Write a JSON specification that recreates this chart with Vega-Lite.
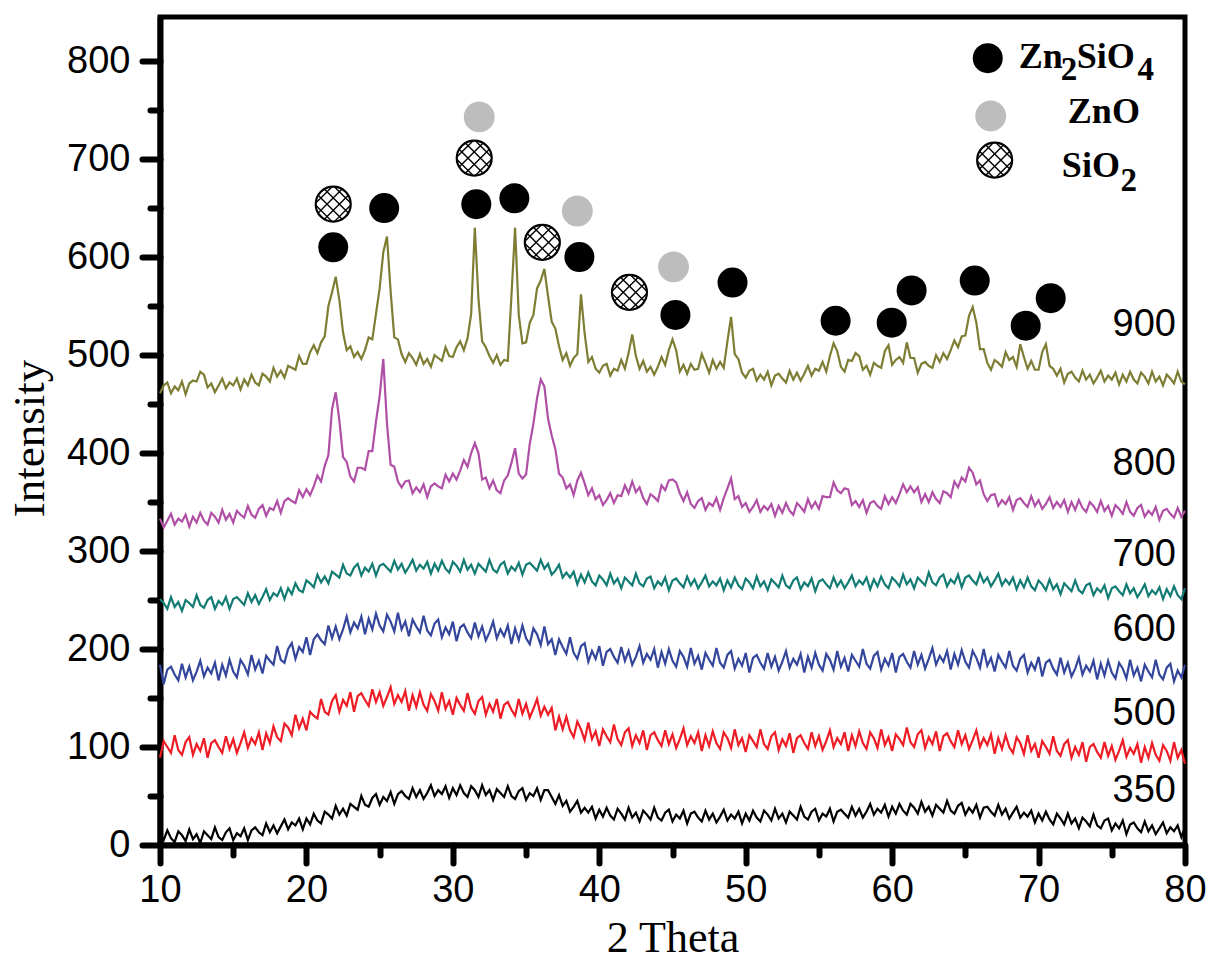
{
"$schema":"https://vega.github.io/schema/vega-lite/v6.json",
"width":1025,"height":828,"autosize":"none",
"padding":{"left":160,"top":17,"right":25,"bottom":120},
"background":"white",
"config":{"view":{"stroke":"#000000","strokeWidth":5},"axis":{"grid":false}},
"datasets":{
"xrd":[
{"x":10,"a":12,"b":89,"c":184,"d":251,"e":333,"f":461},
{"x":10.25,"a":5,"b":106,"c":164,"d":247,"e":324,"f":469},
{"x":10.5,"a":15,"b":100,"c":179,"d":241,"e":331,"f":472},
{"x":10.75,"a":7,"b":94,"c":182,"d":253,"e":338,"f":461},
{"x":11,"a":3,"b":112,"c":174,"d":243,"e":327,"f":468},
{"x":11.25,"a":14,"b":97,"c":168,"d":248,"e":333,"f":464},
{"x":11.5,"a":10,"b":92,"c":185,"d":239,"e":330,"f":473},
{"x":11.75,"a":4,"b":105,"c":171,"d":250,"e":337,"f":460},
{"x":12,"a":16,"b":110,"c":182,"d":247,"e":325,"f":471},
{"x":12.25,"a":6,"b":92,"c":168,"d":243,"e":335,"f":474},
{"x":12.5,"a":11,"b":103,"c":177,"d":255,"e":329,"f":473},
{"x":12.75,"a":2,"b":96,"c":188,"d":245,"e":339,"f":483},
{"x":13,"a":14,"b":109,"c":172,"d":242,"e":331,"f":480},
{"x":13.25,"a":10,"b":89,"c":181,"d":250,"e":327,"f":467},
{"x":13.5,"a":6,"b":104,"c":175,"d":253,"e":339,"f":471},
{"x":13.75,"a":18,"b":107,"c":186,"d":241,"e":335,"f":462},
{"x":14,"a":8,"b":100,"c":168,"d":249,"e":329,"f":469},
{"x":14.25,"a":5,"b":94,"c":184,"d":245,"e":342,"f":476},
{"x":14.5,"a":13,"b":111,"c":173,"d":253,"e":332,"f":466},
{"x":14.75,"a":17,"b":98,"c":189,"d":241,"e":338,"f":472},
{"x":15,"a":5,"b":108,"c":177,"d":251,"e":329,"f":469},
{"x":15.25,"a":12,"b":94,"c":171,"d":253,"e":341,"f":476},
{"x":15.5,"a":9,"b":104,"c":189,"d":249,"e":337,"f":465},
{"x":15.75,"a":17,"b":115,"c":183,"d":245,"e":334,"f":475},
{"x":16,"a":5,"b":99,"c":174,"d":257,"e":346,"f":469},
{"x":16.25,"a":15,"b":109,"c":194,"d":248,"e":337,"f":480},
{"x":16.5,"a":18,"b":103,"c":179,"d":255,"e":334,"f":472},
{"x":16.75,"a":13,"b":115,"c":188,"d":246,"e":343,"f":469},
{"x":17,"a":10,"b":97,"c":175,"d":253,"e":347,"f":481},
{"x":17.25,"a":22,"b":114,"c":193,"d":261,"e":336,"f":478},
{"x":17.5,"a":13,"b":104,"c":188,"d":250,"e":344,"f":473},
{"x":17.75,"a":20,"b":121,"c":184,"d":257,"e":342,"f":487},
{"x":18,"a":12,"b":110,"c":203,"d":254,"e":351,"f":478},
{"x":18.25,"a":19,"b":106,"c":189,"d":262,"e":339,"f":484},
{"x":18.5,"a":26,"b":124,"c":186,"d":251,"e":351,"f":477},
{"x":18.75,"a":16,"b":120,"c":200,"d":262,"e":354,"f":489},
{"x":19,"a":23,"b":112,"c":206,"d":256,"e":351,"f":487},
{"x":19.25,"a":20,"b":133,"c":190,"d":267,"e":349,"f":485},
{"x":19.5,"a":27,"b":119,"c":202,"d":260,"e":362,"f":499},
{"x":19.75,"a":16,"b":129,"c":197,"d":258,"e":355,"f":491},
{"x":20,"a":27,"b":117,"c":212,"d":270,"e":363,"f":491},
{"x":20.25,"a":21,"b":136,"c":194,"d":267,"e":357,"f":503},
{"x":20.5,"a":32,"b":132,"c":210,"d":263,"e":366,"f":510},
{"x":20.75,"a":25,"b":129,"c":215,"d":276,"e":377,"f":502},
{"x":21,"a":22,"b":149,"c":209,"d":268,"e":371,"f":513},
{"x":21.25,"a":34,"b":136,"c":205,"d":274,"e":387,"f":519},
{"x":21.5,"a":31,"b":133,"c":224,"d":267,"e":398,"f":550},
{"x":21.75,"a":27,"b":147,"c":211,"d":279,"e":445,"f":564},
{"x":22,"a":40,"b":153,"c":223,"d":276,"e":462,"f":580},
{"x":22.25,"a":31,"b":136,"c":210,"d":273,"e":433,"f":556},
{"x":22.5,"a":37,"b":148,"c":220,"d":286,"e":396,"f":523},
{"x":22.75,"a":30,"b":142,"c":233,"d":277,"e":391,"f":505},
{"x":23,"a":42,"b":156,"c":217,"d":275,"e":376,"f":509},
{"x":23.25,"a":39,"b":136,"c":227,"d":283,"e":371,"f":498},
{"x":23.5,"a":36,"b":152,"c":221,"d":287,"e":385,"f":503},
{"x":23.75,"a":50,"b":155,"c":233,"d":275,"e":385,"f":496},
{"x":24,"a":41,"b":148,"c":215,"d":283,"e":383,"f":505},
{"x":24.25,"a":39,"b":142,"c":231,"d":279,"e":402,"f":518},
{"x":24.5,"a":48,"b":159,"c":220,"d":287,"e":402,"f":516},
{"x":24.75,"a":52,"b":146,"c":236,"d":275,"e":432,"f":542},
{"x":25,"a":41,"b":156,"c":224,"d":285,"e":458,"f":568},
{"x":25.25,"a":49,"b":142,"c":218,"d":287,"e":496,"f":605},
{"x":25.5,"a":45,"b":151,"c":235,"d":283,"e":430,"f":621},
{"x":25.75,"a":54,"b":161,"c":228,"d":279,"e":388,"f":565},
{"x":26,"a":42,"b":144,"c":218,"d":290,"e":386,"f":518},
{"x":26.25,"a":52,"b":153,"c":237,"d":281,"e":371,"f":516},
{"x":26.5,"a":55,"b":146,"c":220,"d":287,"e":365,"f":501},
{"x":26.75,"a":50,"b":157,"c":228,"d":278,"e":371,"f":493},
{"x":27,"a":47,"b":137,"c":213,"d":284,"e":372,"f":502},
{"x":27.25,"a":58,"b":153,"c":230,"d":291,"e":359,"f":497},
{"x":27.5,"a":49,"b":141,"c":223,"d":280,"e":365,"f":490},
{"x":27.75,"a":56,"b":156,"c":217,"d":286,"e":360,"f":501},
{"x":28,"a":47,"b":143,"c":234,"d":282,"e":368,"f":491},
{"x":28.25,"a":53,"b":137,"c":219,"d":289,"e":355,"f":496},
{"x":28.5,"a":61,"b":154,"c":214,"d":277,"e":366,"f":488},
{"x":28.75,"a":50,"b":147,"c":226,"d":287,"e":369,"f":500},
{"x":29,"a":56,"b":137,"c":230,"d":280,"e":366,"f":497},
{"x":29.25,"a":52,"b":156,"c":212,"d":290,"e":364,"f":494},
{"x":29.5,"a":60,"b":139,"c":222,"d":282,"e":378,"f":508},
{"x":29.75,"a":48,"b":147,"c":215,"d":278,"e":371,"f":499},
{"x":30,"a":58,"b":133,"c":228,"d":289,"e":379,"f":498},
{"x":30.25,"a":51,"b":150,"c":208,"d":285,"e":373,"f":508},
{"x":30.5,"a":61,"b":143,"c":222,"d":279,"e":382,"f":514},
{"x":30.75,"a":53,"b":137,"c":225,"d":291,"e":393,"f":505},
{"x":31,"a":49,"b":155,"c":217,"d":281,"e":386,"f":517},
{"x":31.25,"a":60,"b":140,"c":211,"d":286,"e":400,"f":542},
{"x":31.5,"a":56,"b":134,"c":227,"d":277,"e":410,"f":630},
{"x":31.75,"a":49,"b":147,"c":213,"d":287,"e":400,"f":557},
{"x":32,"a":61,"b":151,"c":223,"d":283,"e":373,"f":514},
{"x":32.25,"a":51,"b":133,"c":209,"d":279,"e":375,"f":508},
{"x":32.5,"a":56,"b":144,"c":217,"d":291,"e":364,"f":499},
{"x":32.75,"a":46,"b":136,"c":228,"d":281,"e":372,"f":492},
{"x":33,"a":57,"b":149,"c":211,"d":278,"e":362,"f":500},
{"x":33.25,"a":53,"b":129,"c":220,"d":286,"e":359,"f":490},
{"x":33.5,"a":49,"b":143,"c":213,"d":289,"e":372,"f":495},
{"x":33.75,"a":60,"b":146,"c":224,"d":277,"e":377,"f":494},
{"x":34,"a":50,"b":138,"c":205,"d":284,"e":390,"f":560},
{"x":34.25,"a":47,"b":132,"c":221,"d":280,"e":405,"f":630},
{"x":34.5,"a":55,"b":149,"c":209,"d":288,"e":379,"f":541},
{"x":34.75,"a":58,"b":134,"c":224,"d":276,"e":374,"f":512},
{"x":35,"a":46,"b":144,"c":211,"d":286,"e":378,"f":513},
{"x":35.25,"a":53,"b":130,"c":205,"d":288,"e":409,"f":533},
{"x":35.5,"a":50,"b":139,"c":221,"d":284,"e":430,"f":541},
{"x":35.75,"a":58,"b":149,"c":215,"d":280,"e":456,"f":568},
{"x":36,"a":46,"b":132,"c":204,"d":291,"e":475,"f":576},
{"x":36.25,"a":56,"b":141,"c":223,"d":282,"e":468,"f":588},
{"x":36.5,"a":56,"b":133,"c":205,"d":287,"e":435,"f":560},
{"x":36.75,"a":49,"b":140,"c":210,"d":276,"e":418,"f":534},
{"x":37,"a":42,"b":117,"c":194,"d":280,"e":404,"f":527},
{"x":37.25,"a":51,"b":131,"c":210,"d":286,"e":379,"f":509},
{"x":37.5,"a":40,"b":118,"c":202,"d":273,"e":375,"f":495},
{"x":37.75,"a":45,"b":131,"c":195,"d":278,"e":364,"f":502},
{"x":38,"a":34,"b":117,"c":212,"d":273,"e":368,"f":489},
{"x":38.25,"a":39,"b":110,"c":196,"d":279,"e":357,"f":497},
{"x":38.5,"a":45,"b":126,"c":190,"d":266,"e":372,"f":501},
{"x":38.75,"a":33,"b":118,"c":203,"d":276,"e":380,"f":562},
{"x":39,"a":38,"b":107,"c":206,"d":268,"e":369,"f":522},
{"x":39.25,"a":33,"b":125,"c":187,"d":278,"e":357,"f":493},
{"x":39.5,"a":39,"b":108,"c":198,"d":269,"e":364,"f":498},
{"x":39.75,"a":27,"b":116,"c":190,"d":265,"e":353,"f":486},
{"x":40,"a":36,"b":101,"c":203,"d":275,"e":357,"f":482},
{"x":40.25,"a":29,"b":118,"c":183,"d":271,"e":347,"f":489},
{"x":40.5,"a":38,"b":111,"c":197,"d":265,"e":352,"f":491},
{"x":40.75,"a":30,"b":105,"c":200,"d":277,"e":359,"f":479},
{"x":41,"a":26,"b":123,"c":192,"d":267,"e":349,"f":486},
{"x":41.25,"a":37,"b":108,"c":186,"d":272,"e":357,"f":484},
{"x":41.5,"a":32,"b":102,"c":202,"d":262,"e":356,"f":495},
{"x":41.75,"a":26,"b":115,"c":188,"d":273,"e":367,"f":486},
{"x":42,"a":38,"b":119,"c":198,"d":269,"e":359,"f":502},
{"x":42.25,"a":28,"b":101,"c":184,"d":265,"e":371,"f":521},
{"x":42.5,"a":33,"b":112,"c":192,"d":277,"e":360,"f":499},
{"x":42.75,"a":24,"b":104,"c":203,"d":267,"e":365,"f":486},
{"x":43,"a":35,"b":117,"c":186,"d":264,"e":354,"f":494},
{"x":43.25,"a":31,"b":97,"c":195,"d":272,"e":348,"f":483},
{"x":43.5,"a":26,"b":112,"c":189,"d":274,"e":358,"f":488},
{"x":43.75,"a":38,"b":115,"c":200,"d":262,"e":355,"f":480},
{"x":44,"a":28,"b":107,"c":181,"d":269,"e":351,"f":488},
{"x":44.25,"a":25,"b":101,"c":197,"d":265,"e":367,"f":498},
{"x":44.5,"a":33,"b":117,"c":185,"d":273,"e":362,"f":490},
{"x":44.75,"a":36,"b":103,"c":200,"d":260,"e":372,"f":505},
{"x":45,"a":24,"b":113,"c":188,"d":270,"e":373,"f":516},
{"x":45.25,"a":31,"b":99,"c":182,"d":272,"e":370,"f":505},
{"x":45.5,"a":27,"b":108,"c":198,"d":267,"e":359,"f":483},
{"x":45.75,"a":35,"b":119,"c":192,"d":263,"e":351,"f":490},
{"x":46,"a":22,"b":102,"c":182,"d":274,"e":360,"f":481},
{"x":46.25,"a":32,"b":111,"c":201,"d":265,"e":348,"f":491},
{"x":46.5,"a":34,"b":104,"c":185,"d":271,"e":344,"f":485},
{"x":46.75,"a":28,"b":115,"c":193,"d":262,"e":351,"f":486},
{"x":47,"a":24,"b":96,"c":179,"d":268,"e":354,"f":501},
{"x":47.25,"a":35,"b":112,"c":196,"d":275,"e":342,"f":492},
{"x":47.5,"a":26,"b":101,"c":189,"d":264,"e":349,"f":482},
{"x":47.75,"a":32,"b":116,"c":183,"d":269,"e":346,"f":495},
{"x":48,"a":23,"b":104,"c":201,"d":265,"e":354,"f":486},
{"x":48.25,"a":29,"b":98,"c":186,"d":272,"e":342,"f":493},
{"x":48.5,"a":36,"b":115,"c":181,"d":260,"e":354,"f":487},
{"x":48.75,"a":25,"b":109,"c":194,"d":270,"e":364,"f":514},
{"x":49,"a":31,"b":99,"c":198,"d":263,"e":374,"f":539},
{"x":49.25,"a":27,"b":118,"c":180,"d":273,"e":353,"f":501},
{"x":49.5,"a":34,"b":102,"c":190,"d":265,"e":356,"f":496},
{"x":49.75,"a":22,"b":109,"c":183,"d":261,"e":345,"f":482},
{"x":50,"a":32,"b":95,"c":196,"d":272,"e":349,"f":477},
{"x":50.25,"a":25,"b":112,"c":176,"d":268,"e":340,"f":484},
{"x":50.5,"a":35,"b":106,"c":191,"d":262,"e":345,"f":486},
{"x":50.75,"a":28,"b":100,"c":194,"d":274,"e":352,"f":474},
{"x":51,"a":24,"b":118,"c":186,"d":264,"e":340,"f":480},
{"x":51.25,"a":35,"b":103,"c":180,"d":269,"e":346,"f":475},
{"x":51.5,"a":31,"b":98,"c":196,"d":260,"e":342,"f":483},
{"x":51.75,"a":25,"b":111,"c":182,"d":271,"e":348,"f":469},
{"x":52,"a":37,"b":115,"c":192,"d":267,"e":336,"f":479},
{"x":52.25,"a":27,"b":97,"c":178,"d":263,"e":346,"f":481},
{"x":52.5,"a":32,"b":108,"c":187,"d":275,"e":339,"f":476},
{"x":52.75,"a":23,"b":101,"c":198,"d":265,"e":349,"f":472},
{"x":53,"a":34,"b":114,"c":181,"d":262,"e":341,"f":484},
{"x":53.25,"a":30,"b":94,"c":190,"d":270,"e":337,"f":475},
{"x":53.5,"a":26,"b":109,"c":184,"d":273,"e":349,"f":482},
{"x":53.75,"a":39,"b":112,"c":195,"d":261,"e":345,"f":474},
{"x":54,"a":29,"b":104,"c":176,"d":268,"e":340,"f":481},
{"x":54.25,"a":26,"b":98,"c":192,"d":264,"e":353,"f":489},
{"x":54.5,"a":34,"b":115,"c":181,"d":272,"e":344,"f":479},
{"x":54.75,"a":37,"b":101,"c":196,"d":259,"e":350,"f":486},
{"x":55,"a":25,"b":111,"c":184,"d":269,"e":343,"f":484},
{"x":55.25,"a":32,"b":97,"c":178,"d":271,"e":356,"f":493},
{"x":55.5,"a":29,"b":106,"c":195,"d":266,"e":355,"f":483},
{"x":55.75,"a":37,"b":117,"c":189,"d":262,"e":355,"f":499},
{"x":56,"a":24,"b":100,"c":179,"d":273,"e":370,"f":512},
{"x":56.25,"a":34,"b":109,"c":198,"d":264,"e":362,"f":504},
{"x":56.5,"a":36,"b":103,"c":182,"d":270,"e":359,"f":488},
{"x":56.75,"a":32,"b":115,"c":191,"d":262,"e":364,"f":483},
{"x":57,"a":28,"b":96,"c":177,"d":268,"e":363,"f":495},
{"x":57.25,"a":39,"b":112,"c":194,"d":275,"e":347,"f":494},
{"x":57.5,"a":30,"b":101,"c":188,"d":264,"e":351,"f":502},
{"x":57.75,"a":37,"b":116,"c":182,"d":270,"e":345,"f":499},
{"x":58,"a":28,"b":104,"c":200,"d":266,"e":352,"f":485},
{"x":58.25,"a":34,"b":98,"c":185,"d":273,"e":339,"f":489},
{"x":58.5,"a":42,"b":115,"c":180,"d":261,"e":349,"f":480},
{"x":58.75,"a":31,"b":109,"c":193,"d":271,"e":351,"f":492},
{"x":59,"a":37,"b":99,"c":197,"d":264,"e":346,"f":489},
{"x":59.25,"a":33,"b":118,"c":179,"d":274,"e":343,"f":487},
{"x":59.5,"a":41,"b":102,"c":190,"d":266,"e":356,"f":504},
{"x":59.75,"a":29,"b":110,"c":183,"d":262,"e":348,"f":510},
{"x":60,"a":39,"b":96,"c":196,"d":273,"e":355,"f":490},
{"x":60.25,"a":32,"b":113,"c":176,"d":269,"e":349,"f":495},
{"x":60.5,"a":42,"b":108,"c":192,"d":264,"e":358,"f":498},
{"x":60.75,"a":35,"b":102,"c":195,"d":276,"e":368,"f":492},
{"x":61,"a":31,"b":120,"c":187,"d":266,"e":360,"f":513},
{"x":61.25,"a":42,"b":105,"c":181,"d":271,"e":366,"f":497},
{"x":61.5,"a":38,"b":100,"c":198,"d":262,"e":360,"f":497},
{"x":61.75,"a":32,"b":113,"c":184,"d":273,"e":365,"f":482},
{"x":62,"a":44,"b":117,"c":194,"d":269,"e":350,"f":491},
{"x":62.25,"a":34,"b":99,"c":180,"d":265,"e":358,"f":493},
{"x":62.5,"a":39,"b":110,"c":190,"d":278,"e":350,"f":489},
{"x":62.75,"a":30,"b":103,"c":201,"d":268,"e":360,"f":487},
{"x":63,"a":41,"b":116,"c":184,"d":265,"e":353,"f":500},
{"x":63.25,"a":37,"b":96,"c":193,"d":273,"e":349,"f":493},
{"x":63.5,"a":33,"b":111,"c":187,"d":276,"e":361,"f":502},
{"x":63.75,"a":45,"b":114,"c":198,"d":264,"e":359,"f":496},
{"x":64,"a":35,"b":106,"c":179,"d":271,"e":355,"f":505},
{"x":64.25,"a":32,"b":100,"c":195,"d":267,"e":371,"f":515},
{"x":64.5,"a":40,"b":117,"c":184,"d":276,"e":365,"f":508},
{"x":64.75,"a":43,"b":103,"c":199,"d":263,"e":375,"f":519},
{"x":65,"a":31,"b":112,"c":187,"d":273,"e":371,"f":520},
{"x":65.25,"a":38,"b":98,"c":181,"d":275,"e":385,"f":540},
{"x":65.5,"a":33,"b":107,"c":198,"d":270,"e":380,"f":549},
{"x":65.75,"a":41,"b":117,"c":191,"d":266,"e":368,"f":533},
{"x":66,"a":28,"b":100,"c":181,"d":277,"e":372,"f":506},
{"x":66.25,"a":38,"b":109,"c":200,"d":268,"e":358,"f":506},
{"x":66.5,"a":39,"b":102,"c":183,"d":273,"e":351,"f":492},
{"x":66.75,"a":34,"b":113,"c":191,"d":264,"e":357,"f":485},
{"x":67,"a":30,"b":93,"c":177,"d":270,"e":358,"f":495},
{"x":67.25,"a":41,"b":109,"c":194,"d":277,"e":346,"f":492},
{"x":67.5,"a":31,"b":98,"c":187,"d":265,"e":352,"f":488},
{"x":67.75,"a":37,"b":112,"c":181,"d":271,"e":348,"f":503},
{"x":68,"a":27,"b":100,"c":198,"d":266,"e":355,"f":495},
{"x":68.25,"a":33,"b":94,"c":183,"d":273,"e":342,"f":498},
{"x":68.5,"a":39,"b":110,"c":178,"d":261,"e":352,"f":488},
{"x":68.75,"a":28,"b":104,"c":190,"d":270,"e":354,"f":511},
{"x":69,"a":33,"b":93,"c":194,"d":263,"e":349,"f":498},
{"x":69.25,"a":29,"b":112,"c":176,"d":273,"e":345,"f":486},
{"x":69.5,"a":35,"b":96,"c":186,"d":264,"e":356,"f":494},
{"x":69.75,"a":23,"b":103,"c":179,"d":260,"e":346,"f":485},
{"x":70,"a":32,"b":89,"c":192,"d":270,"e":352,"f":485},
{"x":70.25,"a":25,"b":106,"c":172,"d":266,"e":343,"f":503},
{"x":70.5,"a":34,"b":100,"c":186,"d":260,"e":348,"f":511},
{"x":70.75,"a":26,"b":93,"c":189,"d":271,"e":355,"f":489},
{"x":71,"a":21,"b":111,"c":180,"d":261,"e":344,"f":486},
{"x":71.25,"a":32,"b":96,"c":174,"d":266,"e":350,"f":479},
{"x":71.5,"a":27,"b":91,"c":191,"d":256,"e":345,"f":486},
{"x":71.75,"a":21,"b":103,"c":176,"d":267,"e":352,"f":472},
{"x":72,"a":32,"b":107,"c":186,"d":263,"e":340,"f":481},
{"x":72.25,"a":22,"b":89,"c":172,"d":259,"e":350,"f":483},
{"x":72.5,"a":27,"b":100,"c":180,"d":270,"e":342,"f":477},
{"x":72.75,"a":17,"b":92,"c":191,"d":260,"e":352,"f":473},
{"x":73,"a":28,"b":105,"c":174,"d":257,"e":344,"f":484},
{"x":73.25,"a":24,"b":85,"c":183,"d":265,"e":340,"f":475},
{"x":73.5,"a":19,"b":100,"c":177,"d":267,"e":350,"f":480},
{"x":73.75,"a":31,"b":103,"c":188,"d":255,"e":346,"f":471},
{"x":74,"a":20,"b":95,"c":169,"d":262,"e":340,"f":477},
{"x":74.25,"a":17,"b":89,"c":185,"d":258,"e":351,"f":484},
{"x":74.5,"a":25,"b":105,"c":173,"d":265,"e":341,"f":473},
{"x":74.75,"a":27,"b":91,"c":188,"d":252,"e":346,"f":479},
{"x":75,"a":15,"b":101,"c":176,"d":262,"e":336,"f":475},
{"x":75.25,"a":22,"b":87,"c":170,"d":264,"e":347,"f":482},
{"x":75.5,"a":17,"b":96,"c":186,"d":259,"e":343,"f":470},
{"x":75.75,"a":25,"b":107,"c":180,"d":255,"e":338,"f":480},
{"x":76,"a":11,"b":90,"c":170,"d":266,"e":350,"f":473},
{"x":76.25,"a":21,"b":99,"c":189,"d":257,"e":340,"f":483},
{"x":76.5,"a":23,"b":93,"c":173,"d":262,"e":336,"f":475},
{"x":76.75,"a":17,"b":103,"c":181,"d":253,"e":344,"f":471},
{"x":77,"a":13,"b":84,"c":167,"d":259,"e":347,"f":482},
{"x":77.25,"a":24,"b":100,"c":184,"d":266,"e":335,"f":478},
{"x":77.5,"a":14,"b":89,"c":177,"d":254,"e":341,"f":471},
{"x":77.75,"a":20,"b":104,"c":171,"d":260,"e":337,"f":483},
{"x":78,"a":11,"b":92,"c":189,"d":256,"e":345,"f":473},
{"x":78.25,"a":17,"b":86,"c":174,"d":263,"e":332,"f":478},
{"x":78.5,"a":23,"b":102,"c":169,"d":251,"e":341,"f":469},
{"x":78.75,"a":12,"b":96,"c":181,"d":261,"e":343,"f":480},
{"x":79,"a":18,"b":86,"c":185,"d":254,"e":338,"f":476},
{"x":79.25,"a":14,"b":105,"c":167,"d":264,"e":334,"f":471},
{"x":79.5,"a":20,"b":89,"c":178,"d":255,"e":344,"f":483},
{"x":79.75,"a":8,"b":97,"c":171,"d":251,"e":335,"f":473},
{"x":80,"a":18,"b":83,"c":184,"d":262,"e":341,"f":470}
],
"markers":[
{"x":21.83,"y":654,"p":"SiO2"},
{"x":21.83,"y":610,"p":"Zn2SiO4"},
{"x":25.31,"y":650,"p":"Zn2SiO4"},
{"x":31.8,"y":743,"p":"ZnO"},
{"x":31.46,"y":701,"p":"SiO2"},
{"x":31.6,"y":654,"p":"Zn2SiO4"},
{"x":34.2,"y":660,"p":"Zn2SiO4"},
{"x":36.11,"y":615,"p":"SiO2"},
{"x":38.5,"y":647,"p":"ZnO"},
{"x":38.64,"y":600,"p":"Zn2SiO4"},
{"x":42.06,"y":564,"p":"SiO2"},
{"x":45.07,"y":590,"p":"ZnO"},
{"x":45.2,"y":541,"p":"Zn2SiO4"},
{"x":49.1,"y":574,"p":"Zn2SiO4"},
{"x":56.14,"y":535,"p":"Zn2SiO4"},
{"x":59.97,"y":533,"p":"Zn2SiO4"},
{"x":61.33,"y":566,"p":"Zn2SiO4"},
{"x":65.64,"y":576,"p":"Zn2SiO4"},
{"x":69.12,"y":530,"p":"Zn2SiO4"},
{"x":70.83,"y":558,"p":"Zn2SiO4"},
{"x":66.53,"y":803,"p":"Zn2SiO4"},
{"x":66.73,"y":744,"p":"ZnO"},
{"x":67.0,"y":699,"p":"SiO2"}
],
"labels":[
{"x":79.38,"y":519,"t":"900"},
{"x":79.38,"y":378,"t":"800"},
{"x":79.38,"y":285,"t":"700"},
{"x":79.38,"y":208,"t":"600"},
{"x":79.38,"y":122,"t":"500"},
{"x":79.38,"y":44,"t":"350"}
],
"legmain":[
{"x":68.65,"y":793,"t":"Zn"},
{"x":72.61,"y":793,"t":"SiO"},
{"x":72.0,"y":737,"t":"ZnO"},
{"x":71.59,"y":682,"t":"SiO"}
],
"legsub":[
{"x":71.52,"y":781,"t":"2"},
{"x":76.75,"y":781,"t":"4"},
{"x":75.6,"y":667,"t":"2"}
]
},
"encoding":{
"x":{"field":"x","type":"quantitative","scale":{"domain":[10,80],"nice":false,"zero":false},
"axis":{"title":"2 Theta","values":[10,15,20,25,30,35,40,45,50,55,60,65,70,75,80],"labelExpr":"datum.value % 10 === 0 ? datum.label : ''","labelFlush":false,"labelOverlap":false,"domainColor":"#000000","domainWidth":6,"tickColor":"#000000","tickWidth":6,"tickCap":"round","tickSize":{"expr":"datum.value % 10 === 0 ? 18 : 10"},"labelPadding":8,"labelFont":"Liberation Sans","labelFontSize":38,"labelColor":"#000000","titleFont":"Liberation Serif","titleFontSize":44,"titleFontWeight":"normal","titleColor":"#000000","titleY":106,"titleBaseline":"alphabetic"}},
"y":{"field":"y","type":"quantitative","scale":{"domain":[0,845],"nice":false,"zero":false},
"axis":{"title":"Intensity","values":[0,50,100,150,200,250,300,350,400,450,500,550,600,650,700,750,800],"labelExpr":"datum.value % 100 === 0 ? datum.label : ''","labelFlush":false,"labelOverlap":false,"domainColor":"#000000","domainWidth":6,"tickColor":"#000000","tickWidth":6,"tickCap":"round","tickSize":{"expr":"datum.value % 100 === 0 ? 18 : 10"},"labelPadding":12,"labelFont":"Liberation Sans","labelFontSize":38,"labelColor":"#000000","titleFont":"Liberation Serif","titleFontSize":45,"titleFontWeight":"normal","titleColor":"#000000","titleX":-117,"titleY":421,"titleAngle":-90,"titleBaseline":"alphabetic","titleAlign":"center"}}
},
"layer":[
{"data":{"name":"xrd"},"transform":[{"fold":["a","b","c","d","e","f"],"as":["s","y"]}],
"mark":{"type":"line","strokeWidth":2.2,"strokeJoin":"miter"},
"encoding":{"color":{"field":"s","type":"nominal","scale":{"domain":["a","b","c","d","e","f"],"range":["#000000","#ee1c25","#34469c","#127b73","#b04fa6","#7e7d34"]},"legend":null}}},
{"data":{"name":"markers"},"transform":[{"filter":"datum.p === 'SiO2'"}],
"mark":{"type":"point","shape":"circle","filled":true,"fill":"#ffffff","stroke":"#000000","strokeWidth":2.2,"size":1225,"opacity":1}},
{"data":{"name":"markers"},"transform":[{"filter":"datum.p === 'SiO2'"}],
"mark":{"type":"point","shape":"M0.862,0.508L-0.508,-0.862M0.508,0.862L-0.862,-0.508M0.998,-0.062L0.062,-0.998M-0.062,0.998L-0.998,0.062M0.862,-0.508L-0.508,0.862M0.508,-0.862L-0.862,0.508M0.998,0.062L0.062,0.998M-0.062,-0.998L-0.998,-0.062","filled":false,"stroke":"#000000","strokeWidth":1.4,"size":1225,"opacity":1}},
{"data":{"name":"markers"},"transform":[{"filter":"datum.p === 'Zn2SiO4'"}],
"mark":{"type":"point","shape":"circle","filled":true,"color":"#000000","size":900,"opacity":1}},
{"data":{"name":"markers"},"transform":[{"filter":"datum.p === 'ZnO'"}],
"mark":{"type":"point","shape":"circle","filled":true,"color":"#bdbdbd","size":950,"opacity":1}},
{"data":{"name":"labels"},
"mark":{"type":"text","align":"right","baseline":"alphabetic","font":"Liberation Sans","fontSize":38,"color":"#000000"},
"encoding":{"text":{"field":"t"}}},
{"data":{"name":"legmain"},
"mark":{"type":"text","align":"left","baseline":"alphabetic","font":"Liberation Serif","fontWeight":"bold","fontSize":36,"color":"#000000"},
"encoding":{"text":{"field":"t"}}},
{"data":{"name":"legsub"},
"mark":{"type":"text","align":"left","baseline":"alphabetic","font":"Liberation Serif","fontWeight":"bold","fontSize":33,"color":"#000000"},
"encoding":{"text":{"field":"t"}}}
]
}
